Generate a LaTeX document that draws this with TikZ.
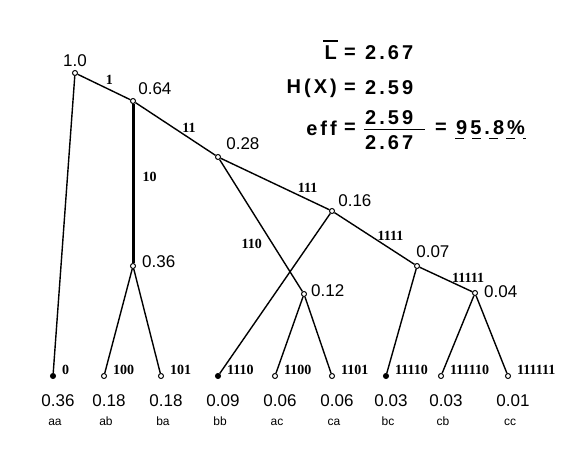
\documentclass[tikz,border=0pt]{standalone}
\usepackage{fontspec}
\setmainfont{Liberation Sans}
\newfontfamily\codefont{Liberation Serif}
\usetikzlibrary{positioning}

\begin{document}
\begin{tikzpicture}[x=1pt, y=-1pt,
  every node/.style={inner sep=1pt},
  vtx/.style={circle, draw, line width=1pt, fill=white, inner sep=0pt, minimum size=5pt},
  edge/.style={line width=1.4pt},
  prob/.style={font=\fontsize{17}{17}\selectfont},
  code/.style={font=\codefont\bfseries\fontsize{14}{14}\selectfont},
  sym/.style={font=\fontsize{12}{12}\selectfont, text height=6pt, text depth=0pt},
  res/.style={font=\bfseries\fontsize{20}{20}\selectfont\addfontfeatures{LetterSpace=15}}
]
  \useasboundingbox (0,0) rectangle (573,449);

  % inner nodes
  \node[vtx] (root) at (75,73)  {};
  \node[vtx] (n64)  at (133,101) {};
  \node[vtx] (n28)  at (218,157) {};
  \node[vtx] (n16)  at (332,211) {};
  \node[vtx] (n07)  at (417,266) {};
  \node[vtx] (n04)  at (475,293) {};
  \node[vtx] (n36)  at (133,266) {};
  \node[vtx] (n12)  at (304,294) {};

  \node[prob, above=2pt of root]             (l-root) {1.0};
  \node[prob, above right=3pt and 2pt of n64] (l-n64)  {0.64};
  \node[prob, above right=4pt and 5pt of n28] (l-n28)  {0.28};
  \node[prob, above right=1pt and 3pt of n16] (l-n16)  {0.16};
  \node[prob, above right=5pt and -4pt of n07] (l-n07) {0.07};
  \node[prob, right=5pt of n04, yshift=1pt]  (l-n04)  {0.04};
  \node[prob, right=5pt of n36, yshift=4.5pt] (l-n36) {0.36};
  \node[prob, right=3pt of n12, yshift=3pt]  (l-n12)  {0.12};

  % leaves
  \foreach \s/\x/\c/\p/\f in {aa/53/0/0.36/black, ab/104/100/0.18/white, ba/161/101/0.18/white,
      bb/218/1110/0.09/black, ac/275/1100/0.06/white, ca/332/1101/0.06/white,
      bc/386/11110/0.03/black, cb/441/111110/0.03/white, cc/508/111111/0.01/white} {
    \node[vtx, fill=\f] (\s) at (\x,376) {};
    \node[code, right=5pt of \s, yshift=6pt] (c-\s) {\c};
    \node[prob, below=14pt of \s, xshift=5pt] (p-\s) {\p};
    \node[sym, below=11pt of p-\s, xshift=-3pt] (s-\s) {\s};
  }

  % branches
  \foreach \a/\b in {root/aa, n16/bb, n36/ab, n36/ba, n12/ac, n12/ca, n07/bc, n04/cb, n04/cc}
    \draw[edge] (\a) -- (\b);
  \draw[edge] (root) -- node[code, pos=0.6, above=3pt] (e1) {1} (n64);
  \draw[line width=3pt] (n64) -- node[code, pos=0.46, right=7pt] (e10) {10} (n36);
  \draw[edge] (n64) -- node[code, pos=0.67, above=4pt] (e11) {11} (n28);
  \draw[edge] (n28) -- node[code, pos=0.8, above=5pt] (e111) {111} (n16);
  \draw[edge] (n28) -- node[code, pos=0.64, left=9pt] (e110) {110} (n12);
  \draw[edge] (n16) -- node[code, pos=0.7, above=7pt] (e1111) {1111} (n07);
  \draw[edge] (n07) -- node[code, pos=0.92, above=6pt] (e11111) {11111} (n04);

  % results
  \node[res, anchor=east] (lsym) at (338,53) {L};
  \node[res] (eq1) at (350,53) {=};
  \node[res, anchor=west] (lval) at (364,53) {2.67};
  \draw[line width=1.4pt] ([yshift=4pt]lsym.north west) -- ([yshift=4pt]lsym.north east);

  \node[res, anchor=east] (hsym) at (338,88) {H(X)};
  \node[res] (eq2) at (350,88) {=};
  \node[res, anchor=west] (hval) at (364,88) {2.59};

  \node[res, anchor=east] (effsym) at (338,128) {eff};
  \node[res] (eq3) at (350,128) {=};
  \node[res, anchor=west] (num) at (364,118) {2.59};
  \node[res, anchor=west] (den) at (364,143) {2.67};
  \coordinate (barl) at (364,129);
  \coordinate (barr) at (425,129);
  \draw[line width=0.8pt] (barl) -- (barr);
  \node[res] (eq4) at (441,128) {=};
  \node[res, anchor=west] (pct) at (455,128) {95.8\%};
  \draw[line width=1.4pt, dash pattern=on 9pt off 8pt] ([yshift=-2pt]pct.south west) -- ([yshift=-2pt]pct.south east);
\end{tikzpicture}
\end{document}
